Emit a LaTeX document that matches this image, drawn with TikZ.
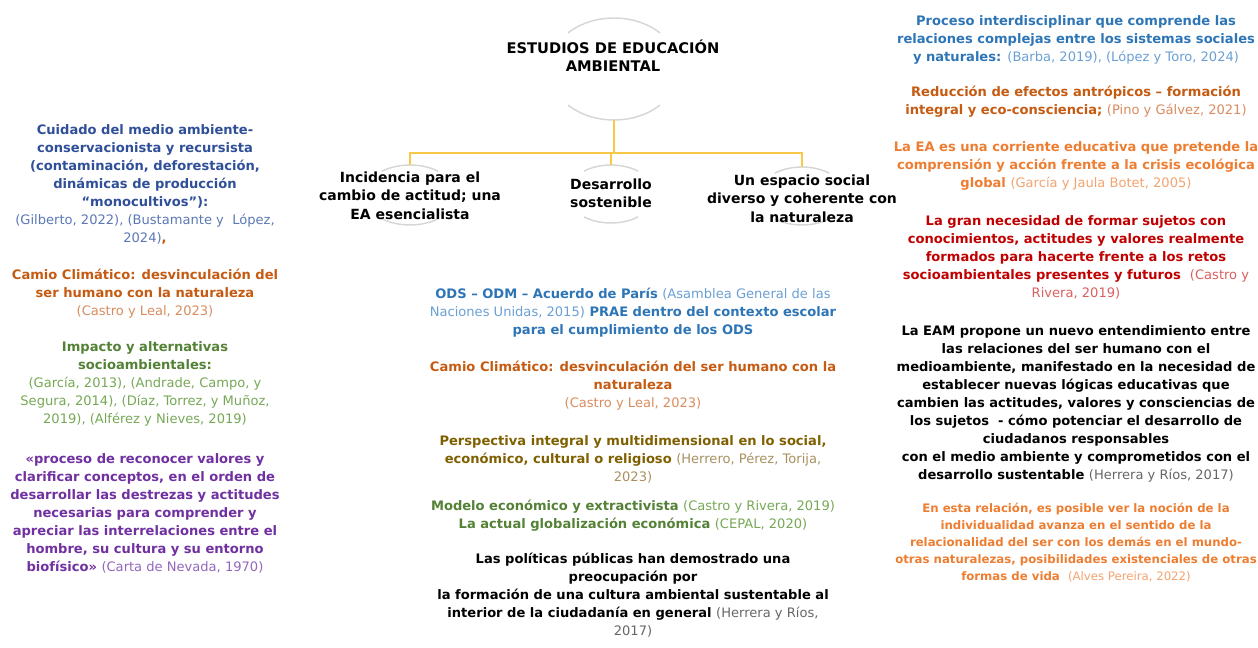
\documentclass[tikz,border=0pt]{standalone}
\usepackage{fontspec}
\setmainfont{DejaVu Sans}
\usetikzlibrary{shapes.geometric}

\definecolor{azuloscuro}{HTML}{2F4F99}
\definecolor{azuloscurocita}{HTML}{5B78B5}
\definecolor{azul}{HTML}{2E75B6}
\definecolor{azulcita}{HTML}{6A9FD4}
\definecolor{marron}{HTML}{C55A11}
\definecolor{marroncita}{HTML}{D98C5F}
\definecolor{naranja}{HTML}{ED7D31}
\definecolor{naranjacita}{HTML}{F2A36F}
\definecolor{verde}{HTML}{538135}
\definecolor{verdecita}{HTML}{76A856}
\definecolor{morado}{HTML}{7030A0}
\definecolor{moradocita}{HTML}{9366BD}
\definecolor{oliva}{HTML}{7F6000}
\definecolor{olivacita}{HTML}{A89060}
\definecolor{rojo}{HTML}{C00000}
\definecolor{rojocita}{HTML}{DB5F5F}
\definecolor{gris}{HTML}{666666}
\definecolor{amarillo}{HTML}{F8C849}
\definecolor{anillogris}{HTML}{D6D6D6}

% citation in regular weight
\newcommand{\cita}[2]{{\mdseries\color{#1}#2}}

\begin{document}
\begin{tikzpicture}[
    x=0.75pt, y=0.75pt,
    bloque/.style={font=\fontsize{9.8}{13.5}\selectfont\bfseries, align=center, anchor=north, inner sep=0pt},
    bloquechico/.style={bloque, font=\fontsize{8.8}{12.75}\selectfont\bfseries},
    titulo/.style={bloque, font=\fontsize{11}{13.5}\selectfont\bfseries},
    hijo/.style={bloque, font=\fontsize{10.5}{13.9}\selectfont\bfseries},
    anillo/.style={ellipse, inner sep=0pt},
    arco/.style={anillogris, line width=1.1pt},
    enlace/.style={amarillo, line width=1.3pt}
]
\useasboundingbox (0,0) rectangle (1258,-648);
% Rings behind the map nodes
\node[anillo, minimum width=97.5pt, minimum height=76.5pt] (ringhub) at (614,-69) {};
\node[anillo, minimum width=69pt, minimum height=45pt] (ringa) at (410,-195) {};
\node[anillo, minimum width=66pt, minimum height=43.5pt] (ringb) at (611,-194) {};
\node[anillo, minimum width=66pt, minimum height=43.5pt] (ringc) at (802,-196) {};
\foreach \r/\a/\b/\t in {ringhub/48.75/38.25/45, ringa/34.5/22.5/52, ringb/33/21.75/52, ringc/33/21.75/52} {
    \draw[arco] (\r.center) ++(\t:\a pt and \b pt) arc[start angle=\t, end angle=180-\t, x radius=\a pt, y radius=\b pt];
    \draw[arco] (\r.center) ++(180+\t:\a pt and \b pt) arc[start angle=180+\t, end angle=360-\t, x radius=\a pt, y radius=\b pt];
}
% Map
\node[titulo] (hub) at (613,-40) {\strut ESTUDIOS DE EDUCACIÓN\\AMBIENTAL};
\node[hijo] (hijoa) at (410,-169) {\strut Incidencia para el\\cambio de actitud; una\\EA esencialista};
\node[hijo] (hijob) at (611,-176) {\strut Desarrollo\\sostenible};
\node[hijo] (hijoc) at (802,-172) {\strut Un espacio social\\diverso y coherente con\\la naturaleza};
\coordinate (horquilla) at (614,-153);
\draw[enlace] (ringhub.south) -- (horquilla);
\foreach \h in {ringa, ringb, ringc}
    \draw[enlace] (horquilla) -| (\h.north);
% Left column
\node[bloque, text=azuloscuro] (cuidado) at (145,-122) {\strut Cuidado del medio ambiente-\\conservacionista y recursista\\(contaminación, deforestación,\\dinámicas de producción\\“monocultivos”):\\\cita{azuloscurocita}{(Gilberto, 2022), (Bustamante y\ \ López,}\\\cita{azuloscurocita}{2024)}\textcolor{marron}{,}};
\node[bloque, text=marron] (clima) at (145,-267) {\strut Camio Climático: desvinculación del\\ser humano con la naturaleza\\\cita{marroncita}{(Castro y Leal, 2023)}};
\node[bloque, text=verde] (impacto) at (145,-339) {\strut Impacto y alternativas\\socioambientales:\\\cita{verdecita}{(García, 2013), (Andrade, Campo, y}\\\cita{verdecita}{Segura, 2014), (Díaz, Torrez, y Muñoz,}\\\cita{verdecita}{2019), (Alférez y Nieves, 2019)}};
\node[bloque, text=morado] (proceso) at (145,-451) {\strut «proceso de reconocer valores y\\clarificar conceptos, en el orden de\\desarrollar las destrezas y actitudes\\necesarias para comprender y\\apreciar las interrelaciones entre el\\hombre, su cultura y su entorno\\biofísico» \cita{moradocita}{(Carta de Nevada, 1970)}};
% Center column
\node[bloque, text=azul] (ods) at (633,-286) {\strut ODS – ODM – Acuerdo de París \cita{azulcita}{(Asamblea General de las}\\\cita{azulcita}{Naciones Unidas, 2015)} PRAE dentro del contexto escolar\\para el cumplimiento de los ODS};
\node[bloque, text=marron] (climab) at (633,-359) {\strut Camio Climático: desvinculación del ser humano con la\\naturaleza\\\cita{marroncita}{(Castro y Leal, 2023)}};
\node[bloque, text=oliva] (perspectiva) at (633,-433) {\strut Perspectiva integral y multidimensional en lo social,\\económico, cultural o religioso \cita{olivacita}{(Herrero, Pérez, Torija,}\\\cita{olivacita}{2023)}};
\node[bloque, text=verde] (modelo) at (633,-498) {\strut Modelo económico y extractivista \cita{verdecita}{(Castro y Rivera, 2019)}\\La actual globalización económica \cita{verdecita}{(CEPAL, 2020)}};
\node[bloque] (politicas) at (633,-551) {\strut Las políticas públicas han demostrado una\\preocupación por\\la formación de una cultura ambiental sustentable al\\interior de la ciudadanía en general \cita{gris}{(Herrera y Ríos,}\\\cita{gris}{2017)}};
% Right column
\node[bloque, text=azul] (interdis) at (1076,-13) {\strut Proceso interdisciplinar que comprende las\\relaciones complejas entre los sistemas sociales\\y naturales: \cita{azulcita}{(Barba, 2019), (López y Toro, 2024)}};
\node[bloque, text=marron] (reduccion) at (1076,-84) {\strut Reducción de efectos antrópicos – formación\\integral y eco-consciencia; \cita{marroncita}{(Pino y Gálvez, 2021)}};
\node[bloque, text=naranja] (corriente) at (1076,-139) {\strut La EA es una corriente educativa que pretende la\\comprensión y acción frente a la crisis ecológica\\global \cita{naranjacita}{(García y Jaula Botet, 2005)}};
\node[bloque, text=rojo] (necesidad) at (1076,-213) {\strut La gran necesidad de formar sujetos con\\conocimientos, actitudes y valores realmente\\formados para hacerte frente a los retos\\socioambientales presentes y futuros\ \ \cita{rojocita}{(Castro y}\\\cita{rojocita}{Rivera, 2019)}};
\node[bloque] (eam) at (1076,-323) {\strut La EAM propone un nuevo entendimiento entre\\las relaciones del ser humano con el\\medioambiente, manifestado en la necesidad de\\establecer nuevas lógicas educativas que\\cambien las actitudes, valores y consciencias de\\los sujetos\ \ - cómo potenciar el desarrollo de\\ciudadanos responsables\\con el medio ambiente y comprometidos con el\\desarrollo sustentable \cita{gris}{(Herrera y Ríos, 2017)}};
\node[bloquechico, text=naranja] (relacion) at (1076,-500) {\strut En esta relación, es posible ver la noción de la\\individualidad avanza en el sentido de la\\relacionalidad del ser con los demás en el mundo-\\otras naturalezas, posibilidades existenciales de otras\\formas de vida\ \ \cita{naranjacita}{(Alves Pereira, 2022)}};
\end{tikzpicture}
\end{document}
